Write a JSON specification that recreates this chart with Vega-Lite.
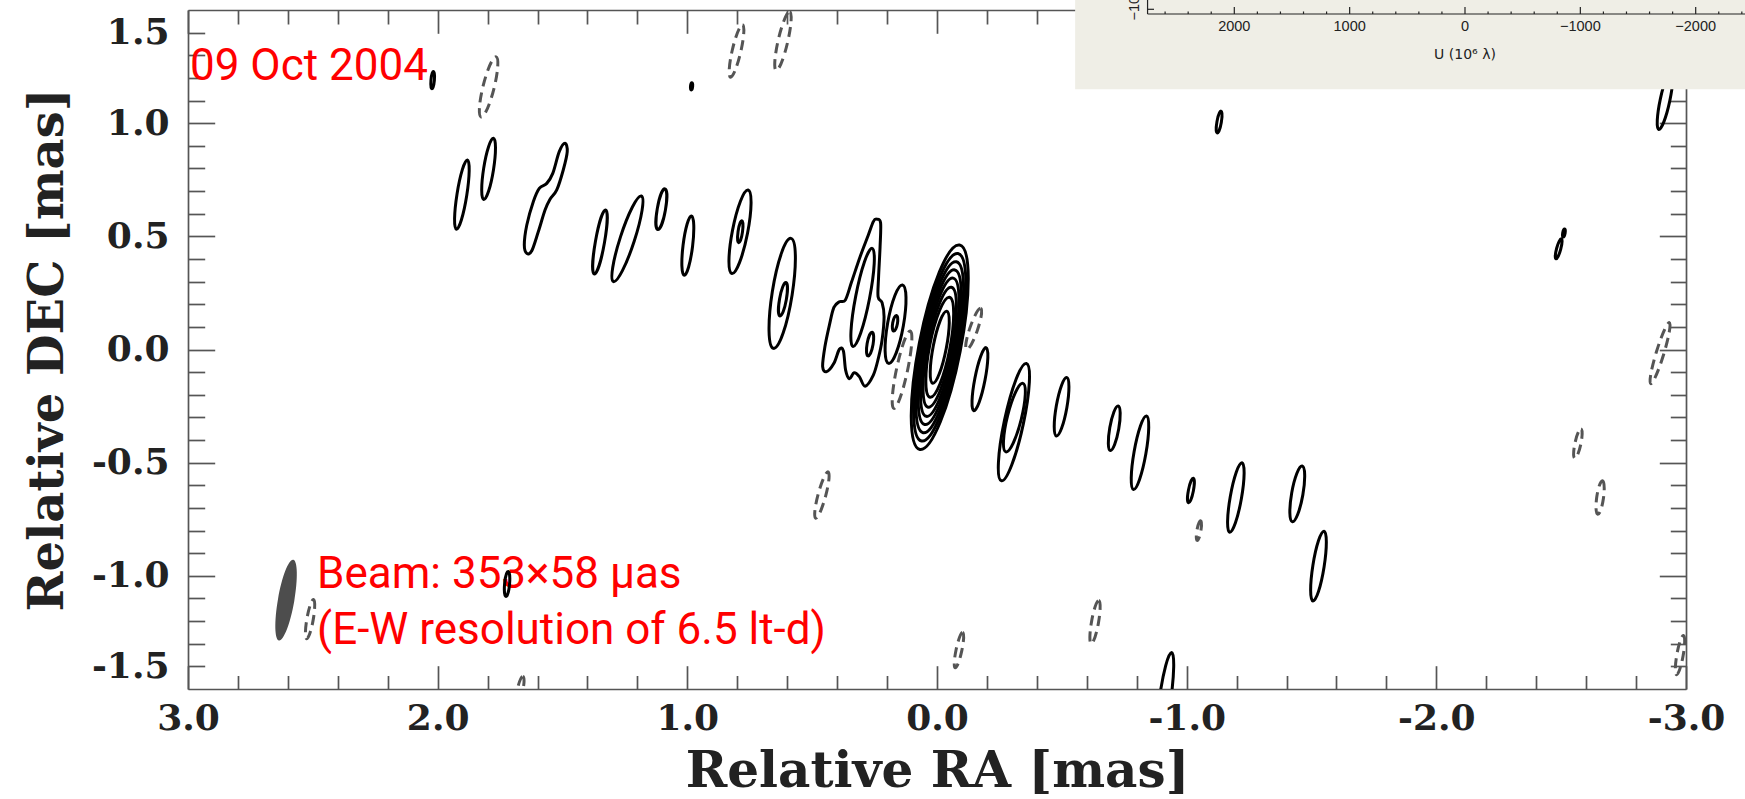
{
  "$schema": "https://vega.github.io/schema/vega-lite/v6.json",
  "width": 1498,
  "height": 679,
  "autosize": {"type": "none"},
  "padding": {"left": 188, "top": 10, "right": 59, "bottom": 110},
  "background": "white",
  "config": {
    "view": {"stroke": null},
    "axis": {
      "grid": false, "domainColor": "#555", "tickColor": "#555", "domainWidth": 1.7, "tickWidth": 1.7,
      "labelFont": "DejaVu Serif", "labelFontWeight": "bold", "labelFontSize": 36, "labelColor": "#222",
      "titleFont": "DejaVu Serif", "titleFontWeight": "bold", "titleColor": "#222",
      "labelFlush": false, "labelOverlap": false, "labelBound": false
    }
  },
  "datasets": {
    "notes": [
      {"ra": 2.992, "dec": 1.191, "label": "09 Oct 2004"},
      {"ra": 2.483, "dec": -1.054, "label": "Beam: 353×58 μas"},
      {"ra": 2.483, "dec": -1.302, "label": "(E-W resolution of 6.5 lt-d)"}
    ],
    "beam": [{"ra": 2.607, "dec": -1.107, "major": 0.181, "ratio": 0.2, "angle": 10}],
    "dashed": [
      {"ra": 1.796, "dec": 1.160, "major": 0.137, "ratio": 0.18, "angle": 14},
      {"ra": 0.140, "dec": -0.089, "major": 0.175, "ratio": 0.14, "angle": 12},
      {"ra": -0.147, "dec": 0.091, "major": 0.096, "ratio": 0.18, "angle": 19},
      {"ra": 0.803, "dec": 1.319, "major": 0.119, "ratio": 0.16, "angle": 13},
      {"ra": 0.617, "dec": 1.363, "major": 0.133, "ratio": 0.16, "angle": 13},
      {"ra": 0.461, "dec": -0.643, "major": 0.106, "ratio": 0.16, "angle": 15},
      {"ra": -0.088, "dec": -1.328, "major": 0.080, "ratio": 0.16, "angle": 12},
      {"ra": -0.633, "dec": -1.204, "major": 0.097, "ratio": 0.16, "angle": 10},
      {"ra": -1.049, "dec": -0.800, "major": 0.044, "ratio": 0.2, "angle": 10},
      {"ra": -2.567, "dec": -0.416, "major": 0.066, "ratio": 0.2, "angle": 12},
      {"ra": -2.656, "dec": -0.654, "major": 0.075, "ratio": 0.2, "angle": 8},
      {"ra": -2.976, "dec": -1.350, "major": 0.088, "ratio": 0.16, "angle": 10},
      {"ra": -2.896, "dec": -0.016, "major": 0.141, "ratio": 0.12, "angle": 17},
      {"ra": 1.670, "dec": -1.505, "major": 0.062, "ratio": 0.2, "angle": 12},
      {"ra": 2.511, "dec": -1.191, "major": 0.088, "ratio": 0.16, "angle": 10}
    ],
    "solid": [
      {"ra": 2.020, "dec": 1.190, "major": 0.038, "ratio": 0.2, "angle": 5},
      {"ra": 0.983, "dec": 1.163, "major": 0.016, "ratio": 0.3, "angle": 5},
      {"ra": 1.903, "dec": 0.684, "major": 0.155, "ratio": 0.14, "angle": 9},
      {"ra": 1.796, "dec": 0.798, "major": 0.137, "ratio": 0.16, "angle": 9},
      {"ra": 1.350, "dec": 0.475, "major": 0.144, "ratio": 0.14, "angle": 10},
      {"ra": 1.240, "dec": 0.489, "major": 0.199, "ratio": 0.16, "angle": 18},
      {"ra": 1.104, "dec": 0.620, "major": 0.091, "ratio": 0.2, "angle": 10},
      {"ra": 0.998, "dec": 0.459, "major": 0.132, "ratio": 0.16, "angle": 7},
      {"ra": 0.789, "dec": 0.520, "major": 0.188, "ratio": 0.18, "angle": 11},
      {"ra": 0.788, "dec": 0.520, "major": 0.049, "ratio": 0.2, "angle": 8},
      {"ra": 0.620, "dec": 0.248, "major": 0.246, "ratio": 0.18, "angle": 9},
      {"ra": 0.617, "dec": 0.222, "major": 0.075, "ratio": 0.2, "angle": 10},
      {"ra": 0.298, "dec": 0.230, "major": 0.221, "ratio": 0.14, "angle": 11},
      {"ra": 0.268, "dec": 0.024, "major": 0.053, "ratio": 0.25, "angle": 10},
      {"ra": 0.166, "dec": 0.112, "major": 0.176, "ratio": 0.2, "angle": 10},
      {"ra": 0.168, "dec": 0.116, "major": 0.035, "ratio": 0.3, "angle": 10},
      {"ra": -0.011, "dec": 0.010, "major": 0.460, "ratio": 0.2, "angle": 11},
      {"ra": -0.011, "dec": 0.010, "major": 0.422, "ratio": 0.2, "angle": 11},
      {"ra": -0.011, "dec": 0.010, "major": 0.385, "ratio": 0.2, "angle": 11},
      {"ra": -0.011, "dec": 0.010, "major": 0.348, "ratio": 0.2, "angle": 11},
      {"ra": -0.011, "dec": 0.010, "major": 0.311, "ratio": 0.2, "angle": 11},
      {"ra": -0.011, "dec": 0.010, "major": 0.270, "ratio": 0.2, "angle": 11},
      {"ra": -0.011, "dec": 0.010, "major": 0.225, "ratio": 0.2, "angle": 11},
      {"ra": -0.011, "dec": 0.010, "major": 0.162, "ratio": 0.18, "angle": 11},
      {"ra": -0.172, "dec": -0.131, "major": 0.142, "ratio": 0.16, "angle": 11},
      {"ra": -0.308, "dec": -0.321, "major": 0.265, "ratio": 0.16, "angle": 12},
      {"ra": -0.310, "dec": -0.301, "major": 0.156, "ratio": 0.2, "angle": 14},
      {"ra": -0.499, "dec": -0.253, "major": 0.131, "ratio": 0.18, "angle": 10},
      {"ra": -0.710, "dec": -0.348, "major": 0.100, "ratio": 0.2, "angle": 10},
      {"ra": -0.813, "dec": -0.456, "major": 0.165, "ratio": 0.16, "angle": 10},
      {"ra": -1.017, "dec": -0.623, "major": 0.055, "ratio": 0.2, "angle": 11},
      {"ra": -1.197, "dec": -0.654, "major": 0.156, "ratio": 0.16, "angle": 10},
      {"ra": -1.443, "dec": -0.638, "major": 0.125, "ratio": 0.2, "angle": 10},
      {"ra": -1.528, "dec": -0.957, "major": 0.156, "ratio": 0.16, "angle": 9},
      {"ra": -0.913, "dec": -1.549, "major": 0.212, "ratio": 0.12, "angle": 8},
      {"ra": -2.916, "dec": 1.102, "major": 0.133, "ratio": 0.16, "angle": 12},
      {"ra": -2.511, "dec": 0.515, "major": 0.018, "ratio": 0.3, "angle": 10},
      {"ra": -2.490, "dec": 0.445, "major": 0.046, "ratio": 0.2, "angle": 15},
      {"ra": -1.130, "dec": 1.005, "major": 0.049, "ratio": 0.2, "angle": 10},
      {"ra": 1.722, "dec": -1.036, "major": 0.055, "ratio": 0.2, "angle": 5}
    ],
    "poly": [
      {"id": "P1", "i": 1, "ra": 1.490, "dec": 0.911},
      {"id": "P1", "i": 2, "ra": 1.481, "dec": 0.874},
      {"id": "P1", "i": 3, "ra": 1.497, "dec": 0.793},
      {"id": "P1", "i": 4, "ra": 1.523, "dec": 0.705},
      {"id": "P1", "i": 5, "ra": 1.550, "dec": 0.664},
      {"id": "P1", "i": 6, "ra": 1.570, "dec": 0.616},
      {"id": "P1", "i": 7, "ra": 1.597, "dec": 0.520},
      {"id": "P1", "i": 8, "ra": 1.623, "dec": 0.436},
      {"id": "P1", "i": 9, "ra": 1.643, "dec": 0.425},
      {"id": "P1", "i": 10, "ra": 1.653, "dec": 0.462},
      {"id": "P1", "i": 11, "ra": 1.643, "dec": 0.550},
      {"id": "P1", "i": 12, "ra": 1.617, "dec": 0.653},
      {"id": "P1", "i": 13, "ra": 1.593, "dec": 0.712},
      {"id": "P1", "i": 14, "ra": 1.563, "dec": 0.734},
      {"id": "P1", "i": 15, "ra": 1.539, "dec": 0.778},
      {"id": "P1", "i": 16, "ra": 1.513, "dec": 0.874},
      {"id": "P2", "i": 1, "ra": 0.242, "dec": 0.576},
      {"id": "P2", "i": 2, "ra": 0.226, "dec": 0.560},
      {"id": "P2", "i": 3, "ra": 0.228, "dec": 0.454},
      {"id": "P2", "i": 4, "ra": 0.234, "dec": 0.321},
      {"id": "P2", "i": 5, "ra": 0.236, "dec": 0.233},
      {"id": "P2", "i": 6, "ra": 0.220, "dec": 0.207},
      {"id": "P2", "i": 7, "ra": 0.212, "dec": 0.145},
      {"id": "P2", "i": 8, "ra": 0.220, "dec": 0.042},
      {"id": "P2", "i": 9, "ra": 0.235, "dec": -0.039},
      {"id": "P2", "i": 10, "ra": 0.255, "dec": -0.113},
      {"id": "P2", "i": 11, "ra": 0.288, "dec": -0.162},
      {"id": "P2", "i": 12, "ra": 0.311, "dec": -0.120},
      {"id": "P2", "i": 13, "ra": 0.332, "dec": -0.103},
      {"id": "P2", "i": 14, "ra": 0.351, "dec": -0.129},
      {"id": "P2", "i": 15, "ra": 0.366, "dec": -0.091},
      {"id": "P2", "i": 16, "ra": 0.375, "dec": -0.006},
      {"id": "P2", "i": 17, "ra": 0.391, "dec": 0.001},
      {"id": "P2", "i": 18, "ra": 0.413, "dec": -0.061},
      {"id": "P2", "i": 19, "ra": 0.442, "dec": -0.098},
      {"id": "P2", "i": 20, "ra": 0.458, "dec": -0.076},
      {"id": "P2", "i": 21, "ra": 0.449, "dec": 0.012},
      {"id": "P2", "i": 22, "ra": 0.431, "dec": 0.108},
      {"id": "P2", "i": 23, "ra": 0.413, "dec": 0.186},
      {"id": "P2", "i": 24, "ra": 0.391, "dec": 0.211},
      {"id": "P2", "i": 25, "ra": 0.367, "dec": 0.219},
      {"id": "P2", "i": 26, "ra": 0.342, "dec": 0.299},
      {"id": "P2", "i": 27, "ra": 0.308, "dec": 0.410},
      {"id": "P2", "i": 28, "ra": 0.275, "dec": 0.506},
      {"id": "P2", "i": 29, "ra": 0.255, "dec": 0.565}
    ],
    "inset_frame": [{"u1": 3380, "u2": -2430}],
    "inset_lines": [
      {"u1": 2752, "u2": -2430, "y1": 1.4823, "y2": 1.4823},
      {"u1": 2752, "u2": 2752, "y1": 1.5442, "y2": 1.4823},
      {"u1": 2752, "u2": 2696, "y1": 1.5031, "y2": 1.5031}
    ],
    "uv_major": [
      {"u": 2000, "label": "2000"}, {"u": 1000, "label": "1000"}, {"u": 0, "label": "0"},
      {"u": -1000, "label": "−1000"}, {"u": -2000, "label": "−2000"}
    ],
    "uv_minor": [
      {"u": 2600}, {"u": 2400}, {"u": 2200}, {"u": 1800}, {"u": 1600}, {"u": 1400}, {"u": 1200},
      {"u": 800}, {"u": 600}, {"u": 400}, {"u": 200}, {"u": -200}, {"u": -400}, {"u": -600}, {"u": -800},
      {"u": -1200}, {"u": -1400}, {"u": -1600}, {"u": -1800}, {"u": -2200}, {"u": -2400}
    ],
    "uv_title": [{"u": 0, "label": "U (10⁶ λ)"}],
    "uv_ylabel": [{"u": 2826, "label": "−1000"}]
  },
  "resolve": {"scale": {"x": "independent"}, "axis": {"x": "independent", "y": "independent"}},
  "layer": [
    {
      "data": {"name": "notes"},
      "mark": {"type": "text", "font": "Roboto", "fontSize": 44, "color": "#ff0000", "align": "left", "baseline": "alphabetic"},
      "encoding": {
        "x": {"field": "ra", "type": "quantitative", "scale": {"domain": [3, -3], "nice": false, "zero": false},
          "axis": {"orient": "bottom", "values": [3, 2, 1, 0, -1, -2, -3], "ticks": false, "domain": true, "labelPadding": 12.6,
            "labelExpr": "datum.value < 0 ? '-' + format(-datum.value, '.1f') : format(datum.value, '.1f')",
            "title": "Relative RA [mas]", "titleFontSize": 50, "titlePadding": 10}},
        "y": {"field": "dec", "type": "quantitative", "scale": {"domain": [-1.5, 1.5], "nice": false, "zero": false},
          "axis": {"orient": "left", "values": [-1.4, -1, -0.5, 0, 0.5, 1, 1.4], "ticks": false, "domain": true, "labelPadding": 19,
            "labelExpr": "abs(datum.value) > 1.2 ? (datum.value < 0 ? '-1.5' : '1.5') : (datum.value < 0 ? '-' + format(-datum.value, '.1f') : format(datum.value, '.1f'))",
            "title": "Relative DEC [mas]", "titleFontSize": 48, "titlePadding": 19}},
        "text": {"field": "label", "type": "nominal"}
      }
    },
    {
      "data": {"name": "beam"},
      "mark": {"type": "point", "filled": true, "color": "#4d4d4d", "strokeWidth": 0, "opacity": 1},
      "encoding": {
        "x": {"field": "ra", "type": "quantitative", "scale": {"domain": [3, -3], "nice": false, "zero": false},
          "axis": {"orient": "bottom", "values": [3, 2, 1, 0, -1, -2, -3], "tickSize": -23.3, "labels": false, "domain": false, "title": null}},
        "y": {"field": "dec", "type": "quantitative", "scale": {"domain": [-1.5, 1.5], "nice": false, "zero": false},
          "axis": {"orient": "left", "values": [-1, -0.5, 0, 0.5, 1], "tickSize": -26.7, "labels": false, "domain": false, "title": null}},
        "size": {"field": "major", "type": "quantitative", "scale": {"type": "pow", "exponent": 2, "domain": [0, 1], "range": [0, 204850]}, "legend": null},
        "shape": {"field": "ratio", "type": "nominal", "legend": null, "scale": {"domain": [0.12, 0.14, 0.16, 0.18, 0.2, 0.25, 0.3], "range": [
          "M0,-1C0.0663,-1,0.12,-0.5523,0.12,0C0.12,0.5523,0.0663,1,0,1C-0.0663,1,-0.12,0.5523,-0.12,0C-0.12,-0.5523,-0.0663,-1,0,-1Z",
          "M0,-1C0.0773,-1,0.14,-0.5523,0.14,0C0.14,0.5523,0.0773,1,0,1C-0.0773,1,-0.14,0.5523,-0.14,0C-0.14,-0.5523,-0.0773,-1,0,-1Z",
          "M0,-1C0.0884,-1,0.16,-0.5523,0.16,0C0.16,0.5523,0.0884,1,0,1C-0.0884,1,-0.16,0.5523,-0.16,0C-0.16,-0.5523,-0.0884,-1,0,-1Z",
          "M0,-1C0.0994,-1,0.18,-0.5523,0.18,0C0.18,0.5523,0.0994,1,0,1C-0.0994,1,-0.18,0.5523,-0.18,0C-0.18,-0.5523,-0.0994,-1,0,-1Z",
          "M0,-1C0.1105,-1,0.2,-0.5523,0.2,0C0.2,0.5523,0.1105,1,0,1C-0.1105,1,-0.2,0.5523,-0.2,0C-0.2,-0.5523,-0.1105,-1,0,-1Z",
          "M0,-1C0.1381,-1,0.25,-0.5523,0.25,0C0.25,0.5523,0.1381,1,0,1C-0.1381,1,-0.25,0.5523,-0.25,0C-0.25,-0.5523,-0.1381,-1,0,-1Z",
          "M0,-1C0.1657,-1,0.3,-0.5523,0.3,0C0.3,0.5523,0.1657,1,0,1C-0.1657,1,-0.3,0.5523,-0.3,0C-0.3,-0.5523,-0.1657,-1,0,-1Z"]}},
        "angle": {"field": "angle", "type": "quantitative", "scale": {"domain": [0, 360], "range": [0, 360]}}
      }
    },
    {
      "data": {"name": "dashed"},
      "mark": {"type": "point", "filled": false, "color": "#555555", "strokeWidth": 3, "strokeDash": [10, 6], "opacity": 1, "clip": true},
      "encoding": {
        "x": {"field": "ra", "type": "quantitative", "scale": {"domain": [3, -3], "nice": false, "zero": false},
          "axis": {"orient": "bottom", "values": [-2.8, -2.6, -2.4, -2.2, -1.8, -1.6, -1.4, -1.2, -0.8, -0.6, -0.4, -0.2, 0.2, 0.4, 0.6, 0.8, 1.2, 1.4, 1.6, 1.8, 2.2, 2.4, 2.6, 2.8], "tickSize": -13.5, "labels": false, "domain": false, "title": null}},
        "y": {"field": "dec", "type": "quantitative", "scale": {"domain": [-1.5, 1.5], "nice": false, "zero": false},
          "axis": {"orient": "left", "values": [-1.4, -1.3, -1.2, -1.1, -0.9, -0.8, -0.7, -0.6, -0.4, -0.3, -0.2, -0.1, 0.1, 0.2, 0.3, 0.4, 0.6, 0.7, 0.8, 0.9, 1.1, 1.2, 1.3, 1.4], "tickSize": -16.7, "labels": false, "domain": false, "title": null}},
        "size": {"field": "major", "type": "quantitative", "scale": {"type": "pow", "exponent": 2, "domain": [0, 1], "range": [0, 204850]}, "legend": null},
        "shape": {"field": "ratio", "type": "nominal", "legend": null},
        "angle": {"field": "angle", "type": "quantitative", "scale": {"domain": [0, 360], "range": [0, 360]}}
      }
    },
    {
      "data": {"name": "poly"},
      "mark": {"type": "line", "interpolate": "cardinal-closed", "color": "#000", "strokeWidth": 3, "clip": true},
      "encoding": {
        "x": {"field": "ra", "type": "quantitative", "scale": {"domain": [3, -3], "nice": false, "zero": false},
          "axis": {"orient": "top", "values": [3, 2, 1, 0, -1, -2, -3], "tickSize": -23.3, "labels": false, "domain": true, "title": null}},
        "y": {"field": "dec", "type": "quantitative", "scale": {"domain": [-1.5, 1.5], "nice": false, "zero": false},
          "axis": {"orient": "right", "values": [-1, -0.5, 0, 0.5, 1], "tickSize": -26.7, "labels": false, "domain": true, "title": null}},
        "detail": {"field": "id", "type": "nominal"},
        "order": {"field": "i", "type": "quantitative"}
      }
    },
    {
      "data": {"name": "solid"},
      "mark": {"type": "point", "filled": false, "color": "#000", "strokeWidth": 3, "opacity": 1, "clip": true},
      "encoding": {
        "x": {"field": "ra", "type": "quantitative", "scale": {"domain": [3, -3], "nice": false, "zero": false},
          "axis": {"orient": "top", "values": [-2.8, -2.6, -2.4, -2.2, -1.8, -1.6, -1.4, -1.2, -0.8, -0.6, -0.4, -0.2, 0.2, 0.4, 0.6, 0.8, 1.2, 1.4, 1.6, 1.8, 2.2, 2.4, 2.6, 2.8], "tickSize": -14, "labels": false, "domain": false, "title": null}},
        "y": {"field": "dec", "type": "quantitative", "scale": {"domain": [-1.5, 1.5], "nice": false, "zero": false},
          "axis": {"orient": "right", "values": [-1.4, -1.3, -1.2, -1.1, -0.9, -0.8, -0.7, -0.6, -0.4, -0.3, -0.2, -0.1, 0.1, 0.2, 0.3, 0.4, 0.6, 0.7, 0.8, 0.9, 1.1, 1.2, 1.3, 1.4], "tickSize": -15.7, "labels": false, "domain": false, "title": null}},
        "size": {"field": "major", "type": "quantitative", "scale": {"type": "pow", "exponent": 2, "domain": [0, 1], "range": [0, 204850]}, "legend": null},
        "shape": {"field": "ratio", "type": "nominal", "legend": null},
        "angle": {"field": "angle", "type": "quantitative", "scale": {"domain": [0, 360], "range": [0, 360]}}
      }
    },
    {
      "data": {"name": "inset_frame"},
      "mark": {"type": "rect", "color": "#efeee6"},
      "encoding": {
        "x": {"field": "u1", "type": "quantitative", "scale": {"domain": [11071, -1916], "nice": false, "zero": false}, "axis": null},
        "x2": {"field": "u2"},
        "y": {"datum": 1.5442, "type": "quantitative", "scale": {"domain": [-1.5, 1.5], "nice": false, "zero": false}, "axis": null},
        "y2": {"datum": 1.1496}
      }
    },
    {
      "data": {"name": "inset_lines"},
      "mark": {"type": "rule", "color": "#222", "strokeWidth": 1.2},
      "encoding": {
        "x": {"field": "u1", "type": "quantitative", "scale": {"domain": [11071, -1916], "nice": false, "zero": false}, "axis": null},
        "x2": {"field": "u2"},
        "y": {"field": "y1", "type": "quantitative", "scale": {"domain": [-1.5, 1.5], "nice": false, "zero": false}, "axis": null},
        "y2": {"field": "y2"}
      }
    },
    {
      "data": {"name": "uv_major"},
      "mark": {"type": "rule", "color": "#222", "strokeWidth": 1.2},
      "encoding": {
        "x": {"field": "u", "type": "quantitative", "scale": {"domain": [11071, -1916], "nice": false, "zero": false}, "axis": null},
        "y": {"datum": 1.4823, "type": "quantitative", "scale": {"domain": [-1.5, 1.5], "nice": false, "zero": false}, "axis": null},
        "y2": {"datum": 1.5133}
      }
    },
    {
      "data": {"name": "uv_minor"},
      "mark": {"type": "rule", "color": "#222", "strokeWidth": 1.2},
      "encoding": {
        "x": {"field": "u", "type": "quantitative", "scale": {"domain": [11071, -1916], "nice": false, "zero": false}, "axis": null},
        "y": {"datum": 1.4823, "type": "quantitative", "scale": {"domain": [-1.5, 1.5], "nice": false, "zero": false}, "axis": null},
        "y2": {"datum": 1.4935}
      }
    },
    {
      "data": {"name": "uv_major"},
      "mark": {"type": "text", "font": "Liberation Sans", "fontSize": 14.5, "color": "#222", "align": "center", "baseline": "middle"},
      "encoding": {
        "x": {"field": "u", "type": "quantitative", "scale": {"domain": [11071, -1916], "nice": false, "zero": false}, "axis": null},
        "y": {"datum": 1.4262, "type": "quantitative", "scale": {"domain": [-1.5, 1.5], "nice": false, "zero": false}, "axis": null},
        "text": {"field": "label", "type": "nominal"}
      }
    },
    {
      "data": {"name": "uv_title"},
      "mark": {"type": "text", "font": "DejaVu Sans", "fontSize": 14, "color": "#222", "align": "center", "baseline": "middle"},
      "encoding": {
        "x": {"field": "u", "type": "quantitative", "scale": {"domain": [11071, -1916], "nice": false, "zero": false}, "axis": null},
        "y": {"datum": 1.3011, "type": "quantitative", "scale": {"domain": [-1.5, 1.5], "nice": false, "zero": false}, "axis": null},
        "text": {"field": "label", "type": "nominal"}
      }
    },
    {
      "data": {"name": "uv_ylabel"},
      "mark": {"type": "text", "font": "Liberation Sans", "fontSize": 14.5, "color": "#222", "align": "left", "baseline": "alphabetic", "angle": 270},
      "encoding": {
        "x": {"field": "u", "type": "quantitative", "scale": {"domain": [11071, -1916], "nice": false, "zero": false}, "axis": null},
        "y": {"datum": 1.4536, "type": "quantitative", "scale": {"domain": [-1.5, 1.5], "nice": false, "zero": false}, "axis": null},
        "text": {"field": "label", "type": "nominal"}
      }
    }
  ]
}
